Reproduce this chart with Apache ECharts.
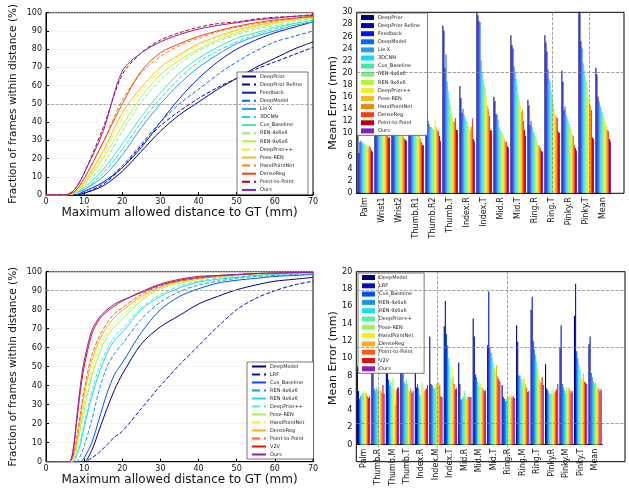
<!DOCTYPE html>
<html><head><meta charset="utf-8">
<script src="https://cdn.jsdelivr.net/npm/echarts@6/dist/echarts.min.js"></script>
<style>html,body{margin:0;padding:0;background:#fff}#c{width:629px;height:489px}</style>
</head><body><div id="c"></div><script>
// ---------- NYU (top row) ----------
const nyuMethods = ['DeepPrior','DeepPrior Refine','Feedback','DeepModel','Lie-X','3DCNN','Cus_Baseline','REN-4x6x6','REN-9x6x6','DeepPrior++','Pose-REN','HandPointNet','DenseReg','Point-to-Point','Ours'];
const nyuColors = ['#00006e','#0000b4','#0018e6','#1064f0','#20a0e0','#10dcf0','#40e8b0','#80f080','#b8f040','#f0f020','#f8b820','#f88010','#f04010','#c00000','#8020c0'];
const nyuDist = [0,5,7.5,10,15,20,25,30,35,40,45,50,55,60,65,70];
const nyuCurves = [
  [0,0,0,1,5,13,24,35,44,51,58,64,70,75,80,84],
  [0,0,0,1,6,15,27,38,46,53,59,64,69,73,77,81],
  [0,0,0,2,7,15,26,40,53,64,73,80,85,89,92,95],
  [0,0,0,2,7,16,28,40,50,58,66,73,79,84,87,90],
  [0,0,1,3,10,22,37,50,61,70,77,83,87,90,93,95],
  [0,0,1,3,12,25,40,53,64,73,79,84,88,91,94,96],
  [0,0,1,4,14,28,43,56,67,75,81,86,89,92,94,96],
  [0,0,1,5,17,35,51,63,72,79,84,88,91,93,95,97],
  [0,0,1,6,20,38,54,66,74,80,85,89,92,94,96,97],
  [0,0,1,6,22,42,57,68,76,82,86,90,92.5,94.5,96,97.5],
  [0,0,1.5,7,24,45,59,70,77,83,87,90.5,93,95,96.5,97.5],
  [0,0,2,9,29,52,67,76,82,86,89.5,92,94,95.5,97,98],
  [0,0,2,9,29,50,68,78,83,87,90,92.5,94.5,96,97,98],
  [0,0,3,12,37,66,78,85,89,92,94,95,96.5,97.5,98,99],
  [0,0,3,12,35,68,78,84,88,91,93,94.5,96,97,98,98.5]
];
const nyuJoints = ['Palm','Wrist1','Wrist2','Thumb.R1','Thumb.R2','Thumb.T','Index.R','Index.T','Mid.R','Mid.T','Ring.R','Ring.T','Pinky.R','Pinky.T','Mean'];
// rows = joints, columns = methods
const nyuErrByJoint = [
  [11.0,6.7,8.5,8.7,8.3,8.5,8.2,8.0,7.9,8.1,7.7,7.9,7.6,7.1,6.9],
  [12.0,11.0,11.5,11.0,10.5,10.5,10.2,10.0,10.0,10.3,9.8,9.5,9.6,9.2,9.3],
  [12.5,11.5,11.0,11.0,10.5,10.3,10.1,10.0,10.2,10.4,9.6,9.4,9.0,8.9,8.7],
  [13.0,12.0,11.5,11.0,10.8,10.5,10.3,10.1,10.0,10.2,9.5,9.0,8.5,8.0,7.9],
  [14.0,13.0,12.0,11.5,11.0,11.0,10.8,10.5,10.6,12.2,11.0,10.5,10.3,9.5,8.7],
  [27.8,27.0,20.8,23.0,18.5,17.0,15.8,14.5,13.5,12.8,12.0,11.8,12.5,10.5,10.5],
  [17.8,15.8,13.3,14.0,13.0,12.5,12.2,11.8,11.2,10.8,10.5,11.0,12.4,9.0,8.6],
  [30.5,29.5,28.5,28.4,22.0,20.0,19.0,18.0,17.5,16.0,14.5,14.0,12.8,10.5,10.4],
  [16.0,15.3,13.2,13.0,12.2,11.0,10.5,10.2,10.0,9.8,9.0,8.6,8.5,7.8,7.6],
  [26.2,24.6,24.0,21.0,20.0,19.0,18.0,16.5,15.5,14.5,13.5,13.8,12.0,10.5,9.5],
  [15.5,14.6,11.3,12.0,11.0,10.2,10.0,9.5,9.0,8.6,8.0,7.9,7.5,7.0,6.9],
  [26.2,25.0,23.5,20.5,19.0,18.5,17.0,16.0,15.0,14.0,13.0,12.7,12.5,10.2,10.0],
  [20.3,18.5,13.8,14.4,13.0,12.5,12.0,11.5,11.0,10.5,9.8,9.5,8.0,7.5,7.1],
  [31.0,30.2,25.2,24.0,21.5,20.5,19.5,18.5,17.5,16.0,15.0,14.5,13.8,9.3,9.0],
  [20.8,19.7,16.0,15.2,14.5,14.0,13.5,12.8,12.3,11.8,11.2,10.5,10.3,9.0,8.6]
];
// ---------- ICVL (bottom row) ----------
const icvlMethods = ['DeepModel','LRF','Cus_Baseline','REN-4x6x6','REN-9x6x6','DeepPrior++','Pose-REN','HandPointNet','DenseReg','Point-to-Point','V2V','Ours'];
const icvlColors = ['#00007a','#0010c0','#0050f0','#2090e0','#20d8f0','#50f0b0','#a0f060','#f0f020','#f8b020','#f86010','#e01010','#9020b0'];
const icvlDist = [0,6,7,8,9,10,12,14,16,18,20,25,30,35,40,45,50,55,60,65,70];
const icvlCurves = [
  [0,0,0,0,0,0,6,17,28,38,46,62,71,77,83,87,90.5,93,95,96,97],
  [0,0,0,0,0,0,2,5,9,13,16,28,40,51,61,71,80,86,90,93,95],
  [0,0,0,0,0,2,10,23,36,46,52,68,80,87,91,94,95.5,96.5,97.5,98,98.5],
  [0,0,0,0,3,8,22,38,50,57,62,75,84,89.5,93,95,96.5,97.5,98,98.5,99],
  [0,0,0,3,9,18,34,47,57,64,68,80,87,91.5,94.5,96,97,98,98.5,99,99.2],
  [0,0,0,4,11,20,37,50,59,66,70,81,88,92.5,95,96.5,97.5,98.3,98.8,99.1,99.3],
  [0,0,1,7,17,27,45,57,66,71,75,85,91,94,96,97.3,98,98.8,99.1,99.3,99.5],
  [0,0,1,8,19,30,48,60,68,73,77,86,91.5,94.5,96,97.5,98.3,99,99.2,99.4,99.5],
  [0,0,2,10,22,35,53,64,71,76,79.5,87,92,95,96.5,97.5,98.5,99,99.3,99.5,99.6],
  [0,0,2,12,25,38,56,66,73,78,81,88,92.5,95,96.5,97.5,98.5,99,99.3,99.5,99.6],
  [0,0,4,20,37,50,67,75,79,82,84.5,89.5,93.5,96,97.5,98,98.5,99,99.3,99.5,99.6],
  [0,0,5,22,40,53,69,76,80,83,85,89,93,95.5,97,98,98.5,99,99.3,99.5,99.6]
];
const icvlJoints = ['Palm','Thumb.R','Thumb.M','Thumb.T','Index.R','Index.M','Index.T','Mid.R','Mid.M','Mid.T','Ring.R','Ring.M','Ring.T','Pinky.R','Pinky.M','Pinky.T','Mean'];
const icvlErrByJoint = [
  [9.0,6.2,5.3,5.6,5.8,6.0,6.2,5.9,6.0,5.6,5.4,5.6],
  [9.5,9.4,6.5,6.2,6.6,6.3,6.5,6.4,6.3,6.0,6.9,5.9],
  [9.8,9.5,7.5,6.8,7.2,6.6,7.7,6.5,4.5,6.3,6.6,6.6],
  [9.8,9.2,8.4,7.2,7.0,7.5,7.0,6.4,6.2,6.5,6.0,6.2],
  [9.2,6.6,7.0,6.5,5.8,5.6,7.2,6.6,6.2,6.3,6.5,6.9],
  [12.5,7.0,6.9,6.6,6.4,6.6,7.0,7.1,7.2,6.9,5.6,5.5],
  [13.7,16.6,12.8,11.5,10.0,9.0,7.6,8.8,7.8,7.0,6.4,6.5],
  [9.5,7.0,5.2,5.3,5.6,6.2,5.8,5.3,5.6,5.5,5.5,5.5],
  [14.6,12.5,8.1,7.8,7.3,6.8,7.2,7.0,6.6,6.4,6.2,6.3],
  [11.5,17.7,11.3,10.6,10.1,9.5,8.8,8.4,9.2,7.9,7.6,7.3],
  [6.9,5.5,5.3,5.0,5.3,5.6,5.5,5.8,5.6,5.4,5.6,5.4],
  [13.8,11.9,8.0,8.0,7.6,7.2,7.6,7.8,7.0,6.6,6.1,6.2],
  [15.6,17.1,12.0,11.0,10.4,9.6,8.8,8.0,7.4,7.1,7.8,6.9],
  [9.3,6.5,6.3,6.0,5.8,6.0,6.2,6.4,6.0,6.2,6.4,7.0],
  [11.3,13.8,7.0,6.6,6.3,6.0,6.6,6.2,6.6,6.3,6.0,6.2],
  [14.9,18.6,10.8,10.0,9.2,8.6,7.8,7.5,8.2,7.3,7.2,7.0],
  [11.6,12.5,8.3,7.8,7.3,7.0,7.2,6.9,6.6,6.4,6.2,6.4]
];
// decorative grid lines (axis units)
const nyuBarHLines = [20];
const nyuBarVLines = [0.735, 0.866];
const icvlBarHLines = [18, 12, 4];
const icvlBarVLines = [0.077, 0.297, 0.564];

// ---------- build ----------
const FONT = 'DejaVu Sans';
const tick = {fontSize: 8, color: '#111', fontFamily: FONT};
function lineXAxis(gi){return {type:'value',gridIndex:gi,min:0,max:70,interval:10,
  name:'Maximum allowed distance to GT (mm)',nameLocation:'middle',nameGap:10,
  nameTextStyle:{fontSize:12,fontFamily:FONT,color:'#111'},
  axisLine:{lineStyle:{color:'#000'}},axisTick:{inside:true,length:3,lineStyle:{color:'#000'}},
  axisLabel:Object.assign({margin:3},tick),splitLine:{show:false}};}
function lineYAxis(gi){return {type:'value',gridIndex:gi,min:0,max:100,interval:10,
  name:'Fraction of frames within distance (%)',nameLocation:'middle',nameGap:27,
  nameTextStyle:{fontSize:10.5,fontFamily:FONT,color:'#111'},
  axisLine:{lineStyle:{color:'#000'}},axisTick:{inside:true,length:3,lineStyle:{color:'#000'}},
  axisLabel:Object.assign({margin:4},tick),splitLine:{show:true,lineStyle:{color:'#e4e4e4',type:'dotted',width:0.8}}};}
function catXAxis(gi,data){return {type:'category',gridIndex:gi,data:data,
  axisLine:{lineStyle:{color:'#000'}},axisTick:{alignWithLabel:true,length:2,lineStyle:{color:'#000'}},
  axisLabel:Object.assign({rotate:90,interval:0,margin:4},tick)};}
function barYAxis(gi,max){return {type:'value',gridIndex:gi,min:0,max:max,interval:2,
  name:'Mean Error (mm)',nameLocation:'middle',nameGap:17,
  nameTextStyle:{fontSize:11,fontFamily:FONT,color:'#111'},
  axisLine:{lineStyle:{color:'#000'}},axisTick:{inside:true,length:3,lineStyle:{color:'#000'}},
  axisLabel:Object.assign({margin:4},tick),splitLine:{show:false}};}
function frameX(gi){return {type:'value',gridIndex:gi,min:0,max:1,show:false};}
function frameY(gi,max){return {type:'value',gridIndex:gi,min:0,max:max,show:false};}

const series = [];
function addLines(names, colors, dist, curves, xi, yi, suffix, mark){
  names.forEach((n,i)=>{
    const s = {type:'line',name:n+suffix,xAxisIndex:xi,yAxisIndex:yi,
      data:dist.map((d,k)=>[d,curves[i][k]]),symbol:'none',showSymbol:false,smooth:0.3,
      color:colors[i],lineStyle:{width:1,color:colors[i],type:(i%2===1 && i!==names.length-1)?'dashed':'solid'},z:3};
    if(i===0){s.markLine={silent:true,symbol:'none',label:{show:false},
      lineStyle:{type:'dashed',color:'#999',width:0.8},data:[{yAxis:mark}]};}
    series.push(s);
  });
}
function addBars(names, colors, rows, xi, yi, suffix){
  names.forEach((n,i)=>{
    series.push({type:'bar',name:n+suffix,xAxisIndex:xi,yAxisIndex:yi,
      data:rows.map(r=>r[i]),color:colors[i],itemStyle:{color:colors[i]},
      barGap:'0%',barCategoryGap:'8%',z:2});
  });
}
function addFrameLines(xi, yi, hl, vl){
  series.push({type:'line',name:'_frame'+xi,xAxisIndex:xi,yAxisIndex:yi,data:[],z:1,
    markLine:{silent:true,symbol:'none',label:{show:false},
      lineStyle:{type:'dashed',color:'#888',width:0.8},
      data:hl.map(v=>({yAxis:v})).concat(vl.map(v=>({xAxis:v})))}});
}
addLines(nyuMethods, nyuColors, nyuDist, nyuCurves, 0, 0, '', 50);
addBars(nyuMethods, nyuColors, nyuErrByJoint, 1, 1, ' ');
addFrameLines(2, 2, nyuBarHLines, nyuBarVLines);
addLines(icvlMethods, icvlColors, icvlDist, icvlCurves, 3, 3, '  ', 90);
addBars(icvlMethods, icvlColors, icvlErrByJoint, 4, 4, '   ');
addFrameLines(5, 5, icvlBarHLines, icvlBarVLines);

function legend(names, suffix, left, top, gap, rectIcon){
  const l = {data:names.map(n=>n+suffix),orient:'vertical',left:left,top:top,
    itemWidth:rectIcon?13:14,itemHeight:5,itemGap:gap,selectedMode:false,
    padding:[2,6,2,4],backgroundColor:'#fff',borderColor:'#555',borderWidth:0.8,
    textStyle:{fontSize:5,fontFamily:FONT,color:'#222',padding:[0,0,0,-1]}};
  if(rectIcon) l.icon='rect';
  else l.itemStyle={opacity:0};
  return l;
}
const frameBorder = {show:true,borderColor:'#000',borderWidth:1,backgroundColor:'transparent'};
const option = {
  animation:false,
  backgroundColor:'#fff',
  textStyle:{fontFamily:FONT},
  grid:[
    Object.assign({left:46,top:12.7,width:267,height:182.3},frameBorder),
    {left:356.7,top:12.3,width:255,height:181},
    Object.assign({left:356.7,top:12.3,width:267.3,height:181},frameBorder),
    Object.assign({left:46,top:271.7,width:267,height:190},frameBorder),
    {left:356.3,top:271.7,width:246,height:190},
    Object.assign({left:356.3,top:271.7,width:268.7,height:190},frameBorder)
  ],
  xAxis:[lineXAxis(0),catXAxis(1,nyuJoints),frameX(2),lineXAxis(3),catXAxis(4,icvlJoints),frameX(5)],
  yAxis:[lineYAxis(0),barYAxis(1,30),frameY(2,30),lineYAxis(3),barYAxis(4,20),frameY(5,20)],
  legend:[
    legend(nyuMethods,'',237,72,3.1,false),
    legend(nyuMethods,' ',357,13,3.1,true),
    legend(icvlMethods,'  ',247,362,3,false),
    legend(icvlMethods,'   ',358,273,3.3,true)
  ],
  series:series
};
const chart = echarts.init(document.getElementById('c'),null,{renderer:'canvas'});
chart.setOption(option);
</script></body></html>
